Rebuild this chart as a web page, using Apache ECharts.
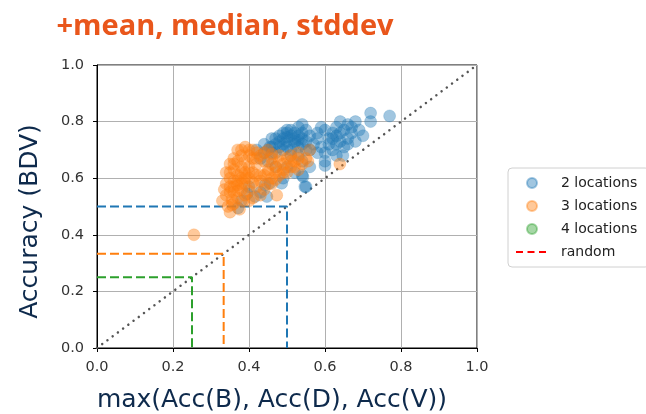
<!DOCTYPE html>
<html>
<head>
<meta charset="utf-8">
<script src="https://cdn.jsdelivr.net/npm/echarts@6/dist/echarts.min.js"></script>
<style>
  html, body { margin: 0; padding: 0; background: #fff; }
  #chart { width: 646px; height: 414px; }
</style>
</head>
<body>
<div id="chart"></div>
<script>
// Accuracy with two sensors (BDV) against the best single sensor, per run
const twoLocations = [
  [0.72,0.83],[0.77,0.82],[0.72,0.80],[0.68,0.80],[0.66,0.79],[0.64,0.80],[0.63,0.78],[0.54,0.79],
  [0.59,0.78],[0.60,0.77],[0.62,0.76],[0.65,0.77],[0.67,0.76],[0.66,0.74],[0.64,0.73],[0.63,0.72],
  [0.61,0.74],[0.62,0.70],[0.65,0.71],[0.68,0.73],[0.70,0.75],[0.58,0.74],[0.57,0.72],[0.60,0.69],
  [0.58,0.69],[0.60,0.66],[0.60,0.645],[0.54,0.61],[0.55,0.57],[0.56,0.70],[0.63,0.68],[0.647,0.68],
  [0.53,0.78],[0.52,0.76],[0.50,0.77],[0.51,0.75],[0.49,0.74],[0.48,0.73],[0.47,0.72],[0.46,0.71],
  [0.45,0.70],[0.50,0.73],[0.52,0.72],[0.54,0.74],[0.55,0.73],[0.53,0.71],[0.51,0.70],[0.49,0.70],
  [0.47,0.69],[0.44,0.69],[0.48,0.75],[0.50,0.76],[0.54,0.76],[0.56,0.75],[0.55,0.70],[0.53,0.68],
  [0.51,0.68],[0.46,0.74],[0.52,0.74],[0.49,0.72],[0.53,0.735],[0.50,0.71],[0.455,0.71],[0.44,0.72],
  [0.42,0.70],[0.416,0.535],[0.447,0.535],[0.371,0.495],[0.486,0.582],[0.542,0.605],[0.547,0.57],
  [0.455,0.582],[0.442,0.576],[0.43,0.55],[0.49,0.60],[0.52,0.62],[0.50,0.64],[0.56,0.64],[0.54,0.66],
  [0.38,0.52],[0.47,0.64],
  [0.51,0.77],[0.52,0.73],[0.50,0.745],[0.48,0.71],[0.46,0.69],[0.53,0.75],[0.55,0.77],[0.54,0.72],
  [0.49,0.76],[0.47,0.74],[0.62,0.74],[0.63,0.75],[0.64,0.76],[0.66,0.72],[0.61,0.72],[0.59,0.71],
  [0.67,0.78],[0.69,0.77],[0.58,0.76],[0.43,0.67],[0.45,0.66],[0.40,0.57],[0.395,0.545]
];
const threeLocations = [
  [0.37,0.70],[0.39,0.71],[0.41,0.70],[0.42,0.69],[0.40,0.68],[0.38,0.68],[0.36,0.67],[0.35,0.65],
  [0.37,0.66],[0.39,0.66],[0.41,0.67],[0.43,0.68],[0.44,0.69],[0.45,0.70],[0.46,0.685],
  [0.34,0.62],[0.36,0.63],[0.38,0.64],[0.40,0.64],[0.42,0.65],[0.35,0.60],[0.37,0.61],[0.39,0.62],
  [0.41,0.62],[0.34,0.58],[0.36,0.59],[0.38,0.60],[0.40,0.60],[0.42,0.61],
  [0.335,0.56],[0.35,0.57],[0.37,0.575],[0.39,0.58],[0.41,0.585],[0.34,0.54],[0.36,0.55],[0.38,0.56],
  [0.40,0.555],[0.355,0.525],[0.37,0.53],[0.39,0.54],[0.345,0.50],[0.36,0.51],[0.375,0.49],[0.35,0.48],
  [0.33,0.52],
  [0.44,0.66],[0.46,0.65],[0.48,0.66],[0.50,0.67],[0.52,0.66],[0.54,0.65],[0.53,0.63],[0.51,0.64],
  [0.49,0.63],[0.47,0.62],[0.45,0.63],[0.44,0.61],[0.46,0.60],[0.48,0.61],[0.50,0.62],[0.52,0.64],
  [0.55,0.67],[0.43,0.59],[0.45,0.58],[0.47,0.595],[0.49,0.65],[0.51,0.68],[0.53,0.69],[0.555,0.66],
  [0.46,0.67],[0.48,0.68],[0.42,0.57],[0.44,0.56],[0.43,0.54],[0.41,0.53],[0.473,0.54],[0.40,0.52],
  [0.255,0.40],[0.639,0.65],[0.56,0.70],
  [0.38,0.70],[0.40,0.70],[0.42,0.67],[0.36,0.65],[0.38,0.62],[0.40,0.62],[0.35,0.62],[0.37,0.59],
  [0.39,0.60],[0.36,0.57],[0.38,0.58],[0.35,0.55],[0.37,0.555],[0.47,0.64],[0.49,0.62],[0.51,0.66],
  [0.53,0.67],[0.45,0.62],[0.46,0.58],[0.43,0.61],[0.355,0.505],[0.385,0.52]
];
const fourLocations = [];

// chance level for 2, 3 and 4 locations
const chanceLevels = [0.5, 1 / 3, 0.25];
const chanceColors = ['#1f77b4', '#ff7f0e', '#2ca02c'];

const navy = '#0e2a4c';

function chanceLine(level, color) {
  return {
    type: 'line',
    data: [[0, level], [level, level], [level, 0]],
    symbol: 'none',
    silent: true,
    lineStyle: { color: color, width: 2, type: [9, 4] },
    z: 3
  };
}

const chart = echarts.init(document.getElementById('chart'), null, { renderer: 'canvas' });

const axisCommon = {
  type: 'value',
  min: 0,
  max: 1,
  interval: 0.2,
  axisLine: { show: true, onZero: false, lineStyle: { color: '#000', width: 1 } },
  axisTick: { show: true, length: 4, lineStyle: { color: '#000' } },
  splitLine: { show: true, lineStyle: { color: '#b0b0b0', width: 1 } },
  axisLabel: {
    color: '#333',
    fontFamily: 'DejaVu Sans',
    fontSize: 14.5,
    margin: 12,
    formatter: v => v.toFixed(1)
  },
  nameLocation: 'middle'
};

const nameStyle = (pad) => ({
  color: navy, fontFamily: 'DejaVu Sans', fontSize: 25, padding: pad
});

const scatterStyle = (color) => ({
  color: color,
  opacity: 0.42,
  borderColor: color,
  borderWidth: 0.5
});

chart.setOption({
  animation: false,
  title: {
    text: '+mean, median, stddev',
    left: 220,
    top: 7,
    textAlign: 'center',
    textStyle: { color: '#e9561b', fontFamily: 'Open Sans', fontWeight: 'bold', fontSize: 29 }
  },
  grid: {
    left: 97, right: 169, top: 65, bottom: 66,
    outerBoundsMode: 'none',
    containLabel: false,
    show: true, borderColor: '#000', borderWidth: 1, backgroundColor: 'transparent'
  },
  xAxis: Object.assign({}, axisCommon, {
    name: 'max(Acc(B), Acc(D), Acc(V))',
    nameGap: 40,
    nameTextStyle: nameStyle([0, 30, 0, 0])
  }),
  yAxis: Object.assign({}, axisCommon, {
    name: 'Accuracy (BDV)',
    nameGap: 54,
    nameTextStyle: nameStyle([0, 30, 0, 0]),
    axisLabel: Object.assign({}, axisCommon.axisLabel, { margin: 13 })
  }),
  legend: {
    data: [
      '2 locations', '3 locations', '4 locations',
      { name: 'random', itemStyle: { opacity: 0 } }
    ],
    orient: 'vertical',
    left: 508,
    top: 168,
    itemWidth: 32,
    itemHeight: 10,
    itemGap: 9,
    padding: [8, 12, 8, 7],
    borderColor: '#d0d0d0',
    borderWidth: 1,
    borderRadius: 4,
    textStyle: { color: '#222', fontFamily: 'DejaVu Sans', fontSize: 14, padding: [0, 0, 0, 8] }
  },
  series: [
    {
      name: '2 locations', type: 'scatter', data: twoLocations, symbolSize: 12,
      itemStyle: scatterStyle('#1f77b4'), z: 4
    },
    {
      name: '3 locations', type: 'scatter', data: threeLocations, symbolSize: 12,
      itemStyle: scatterStyle('#ff7f0e'), z: 5
    },
    {
      name: '4 locations', type: 'scatter', data: fourLocations, symbolSize: 12,
      itemStyle: scatterStyle('#2ca02c'), z: 6
    },
    {
      name: 'random', type: 'line', data: [], symbol: 'none', showSymbol: false,
      itemStyle: { color: '#ff0000' },
      lineStyle: { color: '#ff0000', width: 2, type: [7, 4.5] }
    },
    chanceLine(chanceLevels[0], chanceColors[0]),
    chanceLine(chanceLevels[1], chanceColors[1]),
    chanceLine(chanceLevels[2], chanceColors[2]),
    {
      type: 'line',
      data: [[0, 0], [1, 1]],
      symbol: 'none',
      silent: true,
      lineStyle: { color: '#555', width: 2.5, type: [0.01, 6.5], cap: 'round' },
      z: 2
    }
  ]
});
</script>
</body>
</html>
